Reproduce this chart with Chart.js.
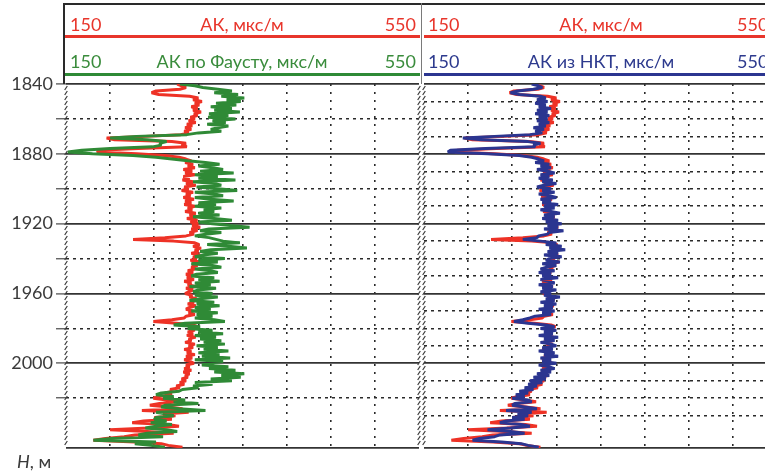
<!DOCTYPE html>
<html>
<head>
<meta charset="utf-8">
<script src="https://cdn.jsdelivr.net/npm/chart.js@4.4.1/dist/chart.umd.min.js"></script>
<style>
  html, body { margin: 0; padding: 0; background: #fff; }
  #wrap { position: relative; width: 765px; height: 472px; overflow: hidden;
          font-family: Lato, "Liberation Sans", sans-serif; }
  canvas { position: absolute; top: 0; }
  .rule { position: absolute; height: 0; }
  .vrule { position: absolute; width: 0; }
  .t { position: absolute; font-size: 18px; line-height: 20px; white-space: nowrap; }
  .c { text-align: center; }
  .r { text-align: right; }
</style>
</head>
<body>
<div id="wrap">
  <canvas id="trackLeft" width="422" height="472" style="left:0"></canvas>
  <canvas id="trackRight" width="360" height="472" style="left:420px"></canvas>

  <!-- header frame -->
  <div class="rule" style="left:63px;top:3px;width:702px;border-top:2px solid #2a2a2a"></div>
  <div class="vrule" style="left:63px;top:3px;height:81px;border-left:2px solid #2a2a2a"></div>
  <div class="vrule" style="left:421px;top:3px;height:81px;border-left:1px solid #7a7a7a"></div>

  <!-- left track header -->
  <div class="t" id="hL1a" style="left:70px;top:14px;color:#e8352b"></div>
  <div class="t c" id="hL1b" style="left:64px;width:356px;top:14px;color:#e8352b"></div>
  <div class="t r" id="hL1c" style="left:316px;width:100px;top:14px;color:#e8352b"></div>
  <div class="rule" style="left:65px;top:35px;width:355px;border-top:3px solid #e8352b"></div>
  <div class="t" id="hL2a" style="left:70px;top:51px;color:#3a8c3c"></div>
  <div class="t c" id="hL2b" style="left:64px;width:356px;top:51px;color:#3a8c3c"></div>
  <div class="t r" id="hL2c" style="left:316px;width:100px;top:51px;color:#3a8c3c"></div>
  <div class="rule" style="left:65px;top:73px;width:355px;border-top:3px solid #2f8a36"></div>

  <!-- right track header -->
  <div class="t" id="hR1a" style="left:428px;top:14px;color:#e8352b"></div>
  <div class="t c" id="hR1b" style="left:424px;width:354px;top:14px;color:#e8352b"></div>
  <div class="t" id="hR1c" style="left:737px;top:14px;color:#e8352b"></div>
  <div class="rule" style="left:424px;top:35px;width:341px;border-top:3px solid #e8352b"></div>
  <div class="t" id="hR2a" style="left:428px;top:51px;color:#2d3a8e"></div>
  <div class="t c" id="hR2b" style="left:424px;width:354px;top:51px;color:#2d3a8e"></div>
  <div class="t" id="hR2c" style="left:737px;top:51px;color:#2d3a8e"></div>
  <div class="rule" style="left:424px;top:73px;width:341px;border-top:3px solid #2b3590"></div>

  <div class="t" style="left:17px;top:451px;color:#3a3a3a"><i>H</i>, м</div>
</div>

<script>
// Depth sampling: one reading per metre starting at the top of the interval
const depthTop = 1840;
const depthStep = 1;
const depthBottom = 2048.5;
const depthLabelEvery = 40;

// Scale of both tracks, µs/m
const scaleMin = 150;
const scaleMax = 550;
const scaleStep = 50;

// Curve titles
const titleAK = 'АК, мкс/м';
const titleFaust = 'АК по Фаусту, мкс/м';
const titleNKT = 'АК из НКТ, мкс/м';

// Acoustic log (AK), µs/m
const akLog = [
  276,281,286,279,252,247,255,290,300,294,
  304,296,301,292,299,294,303,295,299,291,
  296,289,297,287,293,285,292,284,289,280,
  240,196,205,270,286,281,287,232,188,185,
  230,262,278,286,292,285,294,288,296,283,
  293,285,296,283,290,282,294,286,297,284,
  289,281,294,286,291,283,295,285,292,284,
  296,288,293,285,297,290,298,287,299,291,
  300,293,302,292,299,290,295,286,262,226,
  272,296,301,294,303,296,300,292,302,294,
  298,291,303,293,299,292,296,288,294,286,
  293,287,295,284,292,288,296,286,294,289,
  285,293,290,298,291,295,288,297,290,286,
  294,289,296,286,284,270,249,275,294,299,
  291,296,288,294,287,297,289,292,285,296,
  289,294,284,292,287,296,286,293,284,291,
  295,286,290,284,292,283,290,285,288,281,
  286,279,284,275,279,268,272,262,270,256,
  249,264,277,256,245,266,282,236,289,260,
  274,250,270,238,225,265,278,244,200,242,
  272,228,216,195,181,228,258,266,282
];

// AK computed with the Faust relation, µs/m
const akFaust = [
  279,296,305,322,338,318,345,326,352,332,
  348,320,343,314,338,318,347,312,334,311,
  342,316,331,310,334,322,314,326,300,287,
  230,200,242,264,256,258,248,200,168,152,
  180,226,252,270,288,308,324,300,316,328,
  302,340,296,322,300,342,294,318,326,298,
  322,344,296,318,328,296,314,340,300,320,
  296,326,306,318,300,324,294,318,338,300,
  316,336,358,312,302,326,308,296,312,320,
  328,347,310,334,355,314,302,322,306,296,
  330,300,322,292,316,326,296,314,322,298,
  292,318,300,324,296,314,290,320,300,294,
  316,296,322,302,290,318,298,324,296,314,
  292,322,298,316,296,318,330,285,272,302,
  288,316,300,328,296,320,302,326,306,330,
  298,322,306,334,300,324,304,336,296,328,
  312,304,334,312,342,318,352,326,348,314,
  338,296,316,294,300,282,278,258,252,272,
  260,285,272,300,262,258,278,308,252,264,
  272,252,250,264,246,270,252,240,264,276,
  242,232,260,202,181,252,228,246,262
];

// AK recorded through tubing (NKT), µs/m
const akNKT = [
  272,280,284,274,256,248,258,282,288,278,
  290,276,288,280,294,278,290,276,292,280,
  290,278,292,280,288,274,286,276,284,270,
  230,194,215,268,282,274,276,220,180,177,
  222,258,272,280,286,276,292,282,294,278,
  290,298,282,292,280,296,284,300,286,278,
  294,284,298,280,292,300,282,294,284,302,
  286,298,282,294,304,286,298,284,302,288,
  306,290,302,286,308,292,290,280,278,262,
  282,300,288,306,292,310,290,302,286,306,
  292,288,304,284,300,288,282,298,280,294,
  284,302,282,292,298,280,296,284,300,282,
  294,286,304,288,298,282,300,286,296,280,
  298,284,294,276,270,262,252,268,288,298,
  282,300,286,296,280,302,286,298,282,294,
  300,284,296,280,298,286,302,282,294,284,
  300,280,292,298,282,294,278,292,274,288,
  270,284,268,278,264,274,258,268,254,264,
  250,268,272,253,250,264,278,243,272,256,
  268,250,264,243,236,260,270,248,222,248,
  264,236,230,213,205,238,260,268,280
];

// header texts
const setText = (id, s) => { document.getElementById(id).textContent = s; };
setText('hL1a', scaleMin); setText('hL1b', titleAK);    setText('hL1c', scaleMax);
setText('hL2a', scaleMin); setText('hL2b', titleFaust); setText('hL2c', scaleMax);
setText('hR1a', scaleMin); setText('hR1b', titleAK);    setText('hR1c', scaleMax);
setText('hR2a', scaleMin); setText('hR2b', titleNKT);   setText('hR2c', scaleMax);

const RED = '#ee3226';
const GREEN = '#2f8a36';
const BLUE = '#2b3590';

function toPoints(values) {
  return values.map((v, i) => ({ x: v, y: depthTop + i * depthStep }));
}

const isMajorDepth = v => Math.abs(v % depthLabelEvery) < 1e-6;
const isBound = v => v === depthBottom || v === depthTop;

// hatched left/right edges of a track
const edgeHatch = {
  id: 'edgeHatch',
  afterDatasetsDraw(chart) {
    const { ctx, chartArea: a, scales: { x } } = chart;
    ctx.save();
    ctx.strokeStyle = '#3a3a3a';
    ctx.lineWidth = 1.2;
    [x.getPixelForValue(scaleMin), x.getPixelForValue(scaleMax)].forEach(px => {
      for (let y = a.top + 2; y < a.bottom - 3; y += 5) {
        ctx.beginPath();
        ctx.moveTo(px - 1.3, y + 4);
        ctx.lineTo(px + 1.3, y);
        ctx.stroke();
      }
    });
    ctx.restore();
  }
};

function trackOptions(withLabels, padLeft, padRight) {
  return {
    responsive: false,
    animation: false,
    events: [],
    layout: { padding: { top: 84, bottom: 24, left: padLeft, right: padRight } },
    plugins: { legend: { display: false }, tooltip: { enabled: false } },
    elements: { point: { radius: 0 }, line: { tension: 0, borderJoinStyle: 'bevel' } },
    scales: {
      x: {
        type: 'linear',
        min: scaleMin, max: scaleMax,
        ticks: { display: false, stepSize: scaleStep },
        grid: {
          drawTicks: false,
          color: c => (c.tick && (c.tick.value === scaleMin || c.tick.value === scaleMax))
            ? 'rgba(0,0,0,0)' : '#2a2a2a',
          lineWidth: 1.6
        },
        border: { display: false, dash: [2, 6] },
        afterFit: s => { s.height = 0; }
      },
      y: {
        type: 'linear',
        reverse: true,
        min: depthTop, max: depthBottom,
        ticks: {
          display: withLabels,
          stepSize: 10,
          padding: 3,
          color: '#3a3a3a',
          font: { family: 'Lato', size: 18 },
          callback: v => isMajorDepth(v) ? String(v) : ''
        },
        grid: {
          drawTicks: withLabels,
          tickLength: 10,
          tickWidth: 1.3,
          tickColor: c => (c.tick && c.tick.value === depthBottom) ? 'rgba(0,0,0,0)' : '#555',
          color: c => (c.tick && (isMajorDepth(c.tick.value) || isBound(c.tick.value))) ? '#333' : '#2a2a2a',
          lineWidth: c => (c.tick && (isMajorDepth(c.tick.value) || isBound(c.tick.value))) ? 1.8 : 1.5
        },
        border: {
          display: false,
          dash: c => (c.tick && !(isMajorDepth(c.tick.value) || isBound(c.tick.value))) ? [3, 4] : []
        },
        afterFit: s => { s.width = withLabels ? 66 : 0; }
      }
    }
  };
}

// lower "order" is painted later, i.e. on top
function curve(values, color, order) {
  return {
    data: toPoints(values),
    showLine: true,
    borderColor: color,
    backgroundColor: color,
    borderWidth: 3,
    pointRadius: 0,
    order: order
  };
}

new Chart(document.getElementById('trackLeft'), {
  type: 'scatter',
  data: { datasets: [curve(akLog, RED, 2), curve(akFaust, GREEN, 1)] },
  options: trackOptions(true, 0, 3),
  plugins: [edgeHatch]
});

new Chart(document.getElementById('trackRight'), {
  type: 'scatter',
  data: { datasets: [curve(akLog, RED, 2), curve(akNKT, BLUE, 1)] },
  options: trackOptions(false, 4, 3),
  plugins: [edgeHatch]
});
</script>
</body>
</html>
